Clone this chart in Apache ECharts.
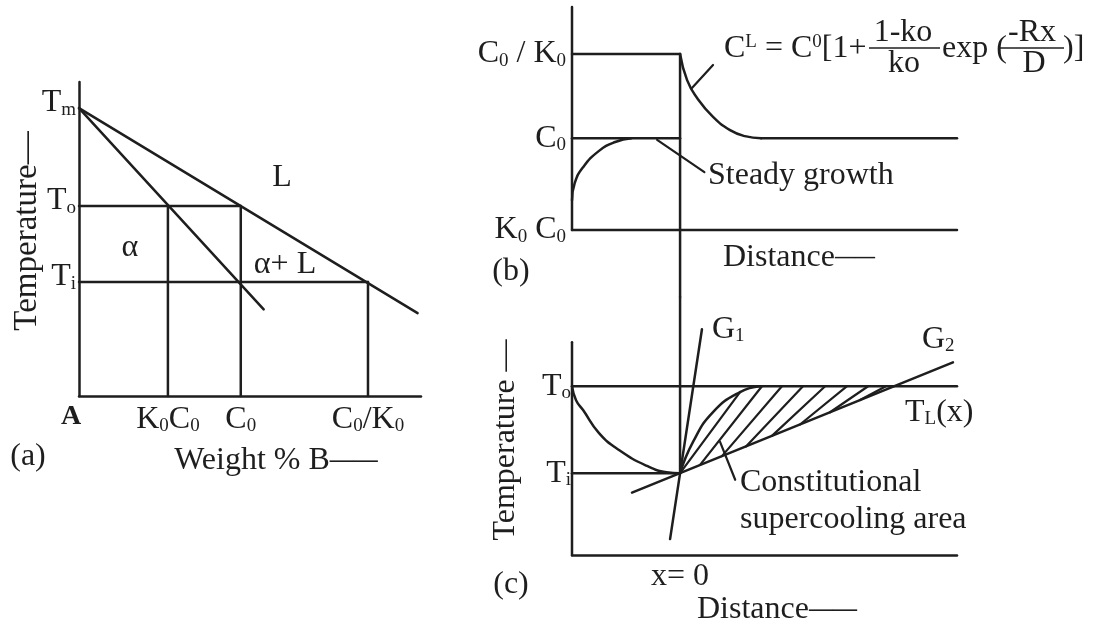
<!DOCTYPE html>
<html>
<head>
<meta charset="utf-8">
<script src="https://cdn.jsdelivr.net/npm/echarts@6/dist/echarts.min.js"></script>
<style>
  html, body { margin: 0; padding: 0; background: #fff; }
  #chart { width: 1094px; height: 625px; }
</style>
</head>
<body>
<div id="chart"></div>
<script>
// ---------- (a) phase diagram: weight % B (0-100) against temperature (0-100) ----------
const compTicks   = [26, 47.3, 84.5];                       // K0C0, C0, C0/K0
const compLabels  = ['{t|K}{s|0}{t|C}{s|0}', '{t|C}{s|0}', '{t|C}{s|0}{t|/K}{s|0}'];
const tempTicksA  = [91.7, 60.5, 36.3];                     // Tm, To, Ti
const tempLabelsA = ['{t|T}{s|m}', '{t|T}{s|o}', '{t|T}{s|i}'];
const liquidus    = [[0, 91.7], [99, 26.4]];
const solidus     = [[0, 91.7], [54, 27.6]];
const isoToA      = [[0, 60.5], [47.3, 60.5]];
const isoTiA      = [[0, 36.3], [84.5, 36.3]];
const dropK0C0    = [[26, 0], [26, 60.5]];
const dropC0      = [[47.3, 0], [47.3, 60.5]];
const dropC0K0    = [[84.5, 0], [84.5, 36.3]];

// ---------- (b) solute profile, distance measured from the interface ----------
const concTicks   = [0, 41.2, 78.9];                        // K0C0, C0, C0/K0
const concLabels  = ['{t|K}{s|0}{t| C}{s|0}', '{t|C}{s|0}', '{t|C}{s|0}{t| / K}{s|0}'];
const solidProfile  = [[-4, 13.4], [-3.9, 21], [-3.6, 28], [-3.0, 35.5], [-2.4, 39.5], [-1.8, 41.2]];
const liquidProfile = [[0, 78.9], [0.26, 67.2], [0.63, 59.2], [1.22, 50.7], [1.85, 44.8], [2.4, 42.1], [3.0, 41.2]];
const liquidBulk    = [[3.0, 41.2], [10.25, 41.2]];
const solidC0       = [[-4, 41.2], [0, 41.2]];
const solidTop      = [[-4, 78.9], [0, 78.9]];
const baseB         = [[-4, 0], [10.25, 0]];
const axisB         = [[-4, 0], [-4, 100]];
const interfaceB    = [[0, 78.9], [0, -30]];
const formulaPtr    = [[1.22, 74.0], [0.44, 63.7]];
const steadyPtr     = [[-0.85, 40.4], [0.9, 26.0]];

// ---------- (c) temperature ahead of the interface ----------
const tempTicksC  = [38, 78.5];                             // Ti, To
const tempLabelsC = ['{t|T}{s|i}', '{t|T}{s|o}'];
const distTicks   = [0];
const distLabels  = ['x= 0'];
const axisC       = [[-4, 0], [-4, 99]];
const interfaceC  = [[0, 120], [0, 38]];
const isoToC      = [[-4, 78.5], [10.25, 78.5]];
const isoTiC      = [[-4, 38], [0, 38]];
const solidTemp   = [[-4, 78.5], [-3.85, 72], [-3.59, 67.4], [-3.0, 56.7], [-2.26, 48.8], [-1.22, 41.4], [-0.5, 38.5], [0, 38]];
const liquidusTL  = [[0, 38], [0.48, 52.6], [1.22, 66.5], [2.22, 75.8], [2.96, 78.5]];
const gradG1      = [[-0.37, 7.4], [0.81, 105]];
const gradG2      = [[-1.78, 29.0], [10.1, 89.6]];
// hatching of the supercooled zone: from G2 up to T_L(x) / To
const hatchLines  = [
  [[0.00, 38.1], [2.22, 75.8]],
  [[0.74, 41.9], [3.03, 78.5]],
  [[1.55, 46.0], [3.77, 78.5]],
  [[2.44, 50.5], [4.55, 78.5]],
  [[3.40, 55.4], [5.37, 78.5]],
  [[4.44, 60.7], [6.18, 78.5]],
  [[5.55, 66.4], [6.96, 78.5]],
  [[6.66, 72.1], [7.62, 78.5]]
];
const areaPtr     = [[1.48, 52.6], [2.04, 35.0]];

const INK  = '#1e1e1e';
const FONT = '"Liberation Serif", "Times New Roman", serif';

// rich styles: t = main glyphs, s = subscript, f = formula glyphs, p = superscript, d/e = trailing dash
function richSet() {
  return {
    t: { fontFamily: FONT, fontSize: 32, lineHeight: 32, verticalAlign: 'top', color: INK, fill: INK },
    s: { fontFamily: FONT, fontSize: 19, lineHeight: 19, verticalAlign: 'bottom', padding: [19, 0, 0, 0], color: INK, fill: INK },
    f: { fontFamily: FONT, fontSize: 32, lineHeight: 32, verticalAlign: 'bottom', color: INK, fill: INK },
    p: { fontFamily: FONT, fontSize: 19, lineHeight: 19, verticalAlign: 'top', color: INK, fill: INK },
    d: { fontFamily: FONT, fontSize: 24, fontWeight: 'bold', lineHeight: 32, verticalAlign: 'middle', color: INK, fill: INK },
    e: { fontFamily: FONT, fontSize: 20, fontWeight: 'bold', lineHeight: 32, verticalAlign: 'middle', color: INK, fill: INK }
  };
}

function seg(data, grid, opt) {
  opt = opt || {};
  return {
    type: 'line', xAxisIndex: grid, yAxisIndex: grid, data: data,
    symbol: 'none', showSymbol: false, smooth: opt.smooth || false,
    lineStyle: { color: INK, width: opt.width || 2.5, cap: 'round' },
    silent: true, clip: false, animation: false, z: 3
  };
}

function labelAxis(ticks, labels, margin, extra) {
  return Object.assign({
    customValues: ticks,
    formatter: function (v) { const i = ticks.indexOf(v); return i < 0 ? '' : labels[i]; },
    margin: margin, fontFamily: FONT, fontSize: 32, color: INK,
    rich: richSet()
  }, extra || {});
}

function txt(text, x, y, opt) {
  opt = opt || {};
  return {
    type: 'text', x: x, y: y, rotation: opt.rot || 0, silent: true,
    style: {
      text: text, fill: INK, fontFamily: FONT, fontSize: opt.size || 32,
      fontWeight: opt.weight || 'normal',
      align: opt.align || 'left', textAlign: opt.align || 'left',
      verticalAlign: 'middle', textVerticalAlign: 'middle',
      rich: richSet()
    }
  };
}

function bar(x1, x2, y) {
  return { type: 'line', silent: true, shape: { x1: x1, y1: y, x2: x2, y2: y },
           style: { stroke: INK, lineWidth: 1.6 } };
}

const hidden = { show: false };
const inkLine = { show: true, onZero: false, lineStyle: { color: INK, width: 2.5 } };

const series = [
  // (a)
  seg(liquidus, 0), seg(solidus, 0), seg(isoToA, 0), seg(isoTiA, 0),
  seg(dropK0C0, 0), seg(dropC0, 0), seg(dropC0K0, 0),
  // (b)
  seg(axisB, 1), seg(baseB, 1), seg(solidTop, 1), seg(solidC0, 1), seg(interfaceB, 1),
  seg(solidProfile, 1, { smooth: 0.5 }), seg(liquidProfile, 1, { smooth: 0.5 }), seg(liquidBulk, 1),
  seg(formulaPtr, 1, { width: 2.2 }), seg(steadyPtr, 1, { width: 2.2 }),
  // (c)
  seg(axisC, 2), seg(interfaceC, 2), seg(isoToC, 2), seg(isoTiC, 2),
  seg(solidTemp, 2, { smooth: 0.5 }), seg(liquidusTL, 2, { smooth: 0.5 }),
  seg(gradG1, 2), seg(gradG2, 2), seg(areaPtr, 2, { width: 2.2 })
].concat(hatchLines.map(function (h) { return seg(h, 2, { width: 2.2 }); }));

const option = {
  backgroundColor: '#ffffff',
  animation: false,
  grid: [
    { left: 79,  top: 82,  width: 342, height: 314 },
    { left: 572, top: 7,   width: 385, height: 290 },
    { left: 572, top: 297, width: 385, height: 258 }
  ],
  xAxis: [
    { gridIndex: 0, type: 'value', min: 0, max: 100, axisLine: inkLine, axisTick: hidden, splitLine: hidden,
      axisLabel: labelAxis(compTicks, compLabels, 8) },
    { gridIndex: 1, type: 'value', min: -4, max: 10.25, show: false },
    { gridIndex: 2, type: 'value', min: -4, max: 10.25, axisLine: inkLine, axisTick: hidden, splitLine: hidden,
      axisLabel: labelAxis(distTicks, distLabels, 6) }
  ],
  yAxis: [
    { gridIndex: 0, type: 'value', min: 0, max: 100, axisLine: inkLine, axisTick: hidden, splitLine: hidden,
      axisLabel: labelAxis(tempTicksA, tempLabelsA, 3, { padding: [0, 0, 10, 0] }) },
    { gridIndex: 1, type: 'value', min: -30, max: 100, axisLine: hidden, axisTick: hidden, splitLine: hidden,
      axisLabel: labelAxis(concTicks, concLabels, 6) },
    { gridIndex: 2, type: 'value', min: 0, max: 120, axisLine: hidden, axisTick: hidden, splitLine: hidden,
      axisLabel: labelAxis(tempTicksC, tempLabelsC, 1) }
  ],
  series: series,
  graphic: [
    // (a)
    txt('Temperature\u2014', 27, 231, { rot: Math.PI / 2, align: 'center', size: 33 }),
    txt('L', 282, 178, { align: 'center' }),
    txt('\u03b1', 130, 248, { align: 'center' }),
    txt('\u03b1+ L', 285, 265, { align: 'center' }),
    txt('A', 71, 417, { align: 'center', weight: 'bold', size: 28 }),
    txt('(a)', 28, 457, { align: 'center' }),
    txt('Weight % B{d|\u2014\u2014}', 276, 461, { align: 'center' }),
    // (b)
    txt('{f|C}{p|L}{f| = C}{p|0}{f|[1+}', 724, 49),
    txt('1-ko', 903, 33, { align: 'center' }),
    bar(869, 940, 48),
    txt('ko', 904, 64, { align: 'center' }),
    txt('exp (', 942, 49),
    txt('-Rx', 1032, 33, { align: 'center' }),
    bar(1000, 1064, 48),
    txt('D', 1034, 64, { align: 'center' }),
    txt(')]', 1063, 49),
    txt('Steady growth', 708, 176),
    txt('(b)', 511, 272, { align: 'center' }),
    txt('Distance{e|\u2014\u2014}', 723, 258),
    // (c)
    txt('Temperature \u2014', 506, 440, { rot: Math.PI / 2, align: 'center' }),
    txt('{t|G}{s|1}', 712, 330),
    txt('{t|G}{s|2}', 922, 340),
    txt('{t|T}{s|L}{t|(x)}', 905, 413),
    txt('Constitutional', 740, 483),
    txt('supercooling area', 740, 520),
    txt('(c)', 511, 585, { align: 'center' }),
    txt('Distance{d|\u2014\u2014}', 697, 610)
  ]
};

const chart = echarts.init(document.getElementById('chart'), null, { renderer: 'canvas' });
chart.setOption(option);
</script>
</body>
</html>
